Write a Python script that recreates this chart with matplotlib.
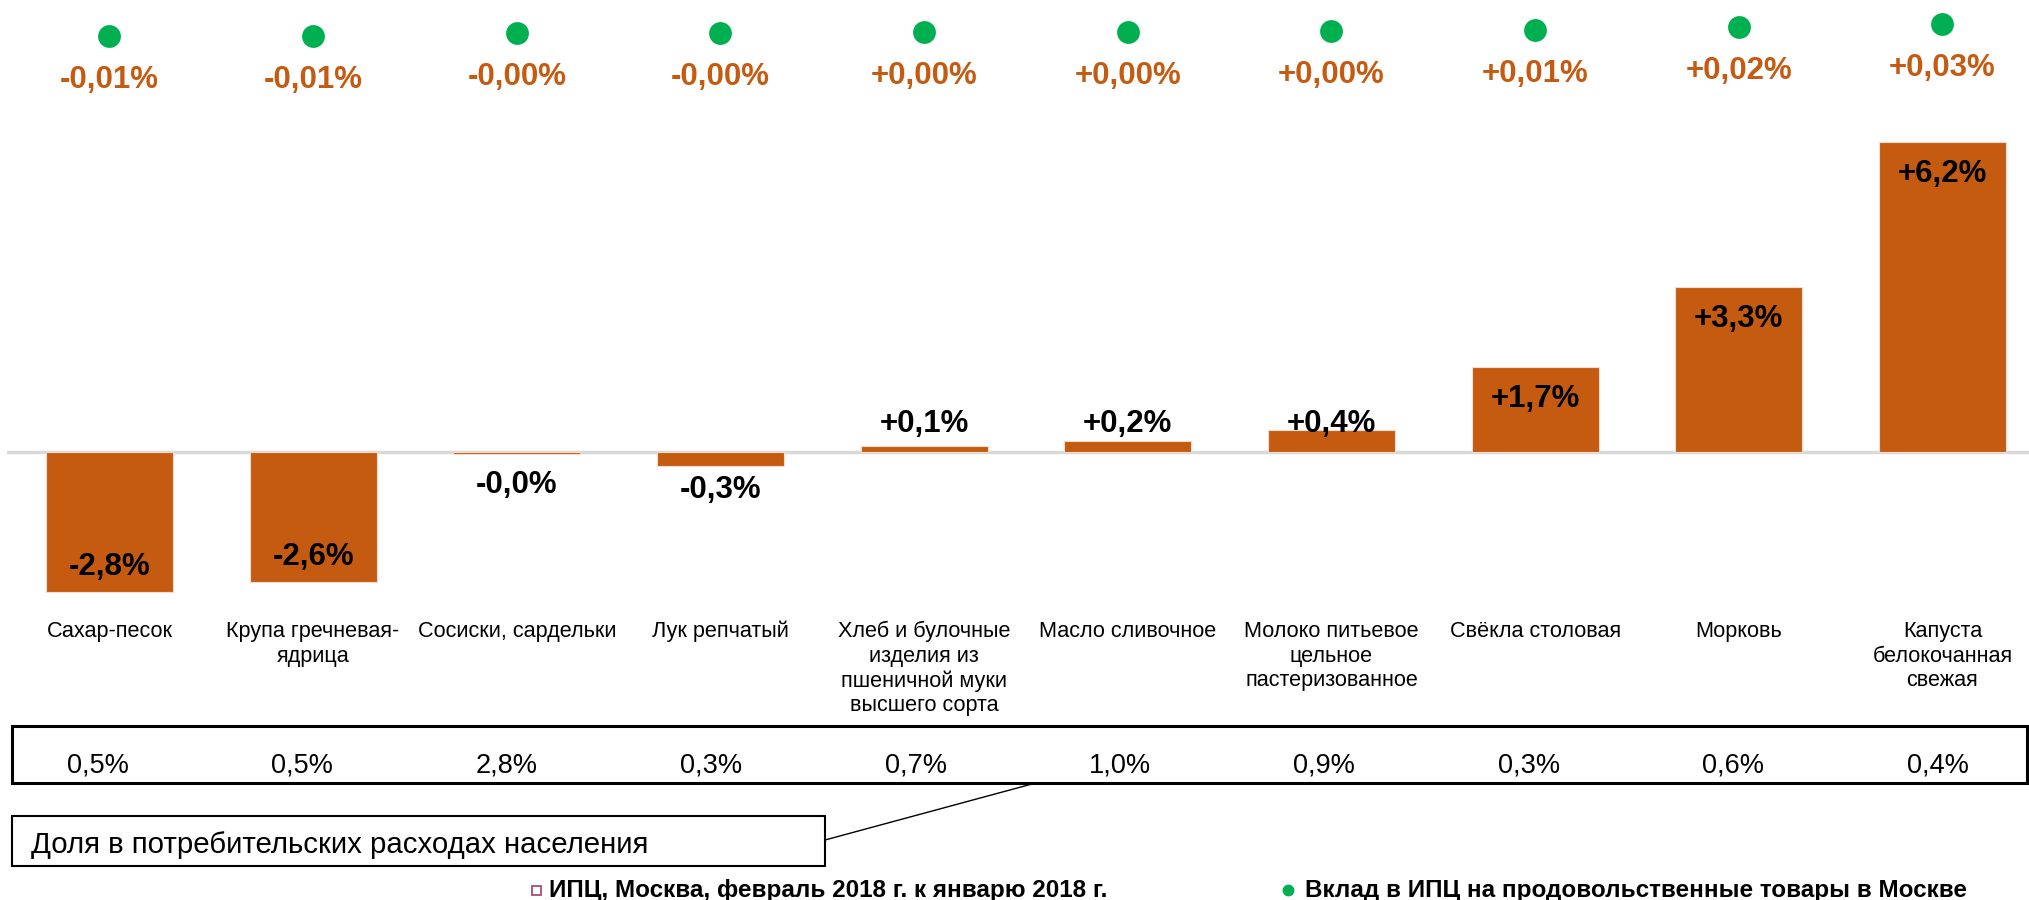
import matplotlib
matplotlib.use("Agg")
import matplotlib.pyplot as plt
from matplotlib.patches import Rectangle
from matplotlib.lines import Line2D
import matplotlib.transforms as mtransforms

plt.rcParams['font.family'] = ['Liberation Sans', 'DejaVu Sans']

# ---------------- data ----------------
categories = [
    "Сахар-песок",
    "Крупа гречневая-\nядрица",
    "Сосиски, сардельки",
    "Лук репчатый",
    "Хлеб и булочные\nизделия из\nпшеничной муки\nвысшего сорта",
    "Масло сливочное",
    "Молоко питьевое\nцельное\nпастеризованное",
    "Свёкла столовая",
    "Морковь",
    "Капуста\nбелокочанная\nсвежая",
]
cpi_change = [-2.8, -2.6, -0.03, -0.28, 0.12, 0.23, 0.44, 1.7, 3.3, 6.2]
cpi_contribution = [-0.012, -0.013, -0.003, -0.002, 0.001, 0.002, 0.004, 0.006, 0.018, 0.026]
expense_share = ["0,5%", "0,5%", "2,8%", "0,3%", "0,7%", "1,0%", "0,9%", "0,3%", "0,6%", "0,4%"]
share_caption = "Доля в потребительских расходах населения"
legend_bar = "ИПЦ, Москва, февраль 2018 г. к январю 2018 г."
legend_dot = "Вклад в ИПЦ на продовольственные товары в Москве"

BAR = "#C55A11"
GREEN = "#00B050"

W, H = 2029, 900
fig = plt.figure(figsize=(W / 100, H / 100), dpi=100)

def fx(px):
    return px / W

def fy(py):  # py measured from top
    return 1 - py / H

# ---------------- bar axes ----------------
ax = fig.add_axes([fx(7), fy(612), fx(2029 - 7), (612 - 122) / H])
x = list(range(len(categories)))
ax.bar(x, cpi_change, width=0.624, color=BAR, edgecolor="#F2DCCB", linewidth=0.8, zorder=2)
ax.axhline(0, color="#D9D9D9", lw=2.5, zorder=1)
ax.set_xlim(-0.503, 9.425)
ax.set_ylim(-3.2, 6.6)
ax.axis("off")

def fmt1(v):
    return f"{v:+.1f}%".replace(".", ",")

for i, v in enumerate(cpi_change):
    lbl = fmt1(v)
    if abs(v) >= 1:
        y = v - 0.64 if v > 0 else v + 0.5
    elif v >= 0:
        y = 0.56
    else:
        y = -0.64 + 0.4 * v
    ax.text(i, y, lbl, ha="center", va="center", fontsize=22.5,
            fontweight="bold", color="black", zorder=3)

# category labels
trans = mtransforms.blended_transform_factory(ax.transData, fig.transFigure)
for i, c in enumerate(categories):
    ax.text(i, fy(621), c, transform=trans, ha="center", va="top",
            fontsize=15.6, linespacing=1.22, color="black")

# ---------------- dots axes ----------------
axd = fig.add_axes([fx(7), fy(100), fx(2029 - 7), 100 / H])
axd.set_xlim(-0.503, 9.425)
axd.set_ylim((32.2 - 100) / 316, 32.2 / 316)
axd.axis("off")
axd.scatter(x, cpi_contribution, s=270, color=GREEN, zorder=3, linewidths=0)
for i, v in enumerate(cpi_contribution):
    lbl = (f"{v:+.2f}%").replace(".", ",")
    axd.annotate(lbl, (i, v), xytext=(0, -44 * 0.72), textcoords="offset points",
                 ha="center", va="center", fontsize=22.5, fontweight="bold",
                 color=BAR, annotation_clip=False)

# ---------------- share table ----------------
fig.patches.append(Rectangle((fx(12), fy(783)), fx(2027 - 12), (783 - 726) / H,
                             transform=fig.transFigure, fill=False,
                             edgecolor="black", lw=2.2))
for i, s in enumerate(expense_share):
    fig.text(fx(98 + 204.4 * i), fy(765), s, ha="center", va="center",
             fontsize=19.5, color="black")

# callout box
fig.patches.append(Rectangle((fx(12), fy(866)), fx(825 - 12), (866 - 816) / H,
                             transform=fig.transFigure, facecolor="white",
                             edgecolor="black", lw=1.5))
fig.text(fx(31), fy(845), share_caption, ha="left", va="center",
         fontsize=21.2, color="black")
fig.lines.append(Line2D([fx(825), fx(1032)], [fy(840), fy(784)],
                        transform=fig.transFigure, color="black", lw=1.0))

# ---------------- legend ----------------
fig.patches.append(Rectangle((fx(532), fy(895)), fx(9), 9 / H,
                             transform=fig.transFigure, fill=False,
                             edgecolor="#B04A70", lw=1.3))
fig.text(fx(549), fy(890), legend_bar, ha="left", va="center",
         fontsize=17.5, fontweight="bold", color="black")
fig.lines.append(Line2D([fx(1288)], [fy(890)], transform=fig.transFigure,
                        marker="o", markersize=7.5, color=GREEN, linestyle="none"))
fig.text(fx(1305), fy(890), legend_dot, ha="left", va="center",
         fontsize=17.5, fontweight="bold", color="black")

fig.savefig("out.png", dpi=100, facecolor="white")
